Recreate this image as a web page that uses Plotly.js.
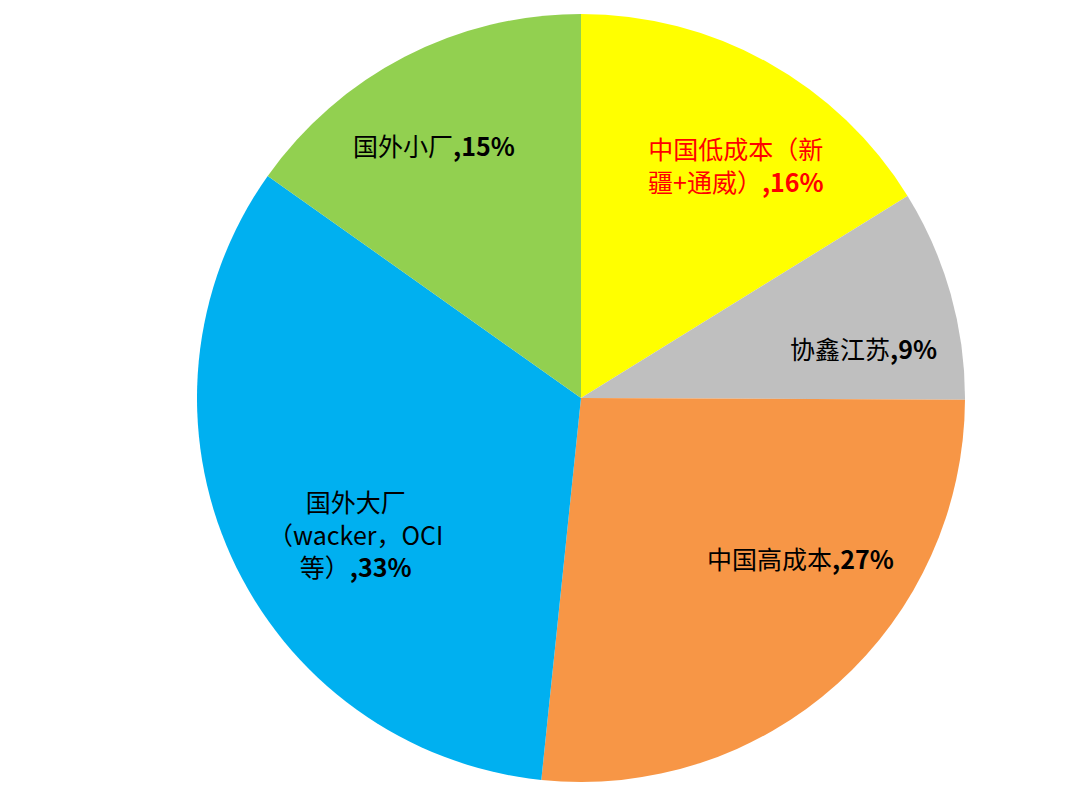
<!DOCTYPE html>
<html><head><meta charset="utf-8">
<script src="https://cdn.plot.ly/plotly-3.0.1.min.js"></script>
<style>html,body{margin:0;padding:0;background:#fff;}</style>
</head><body>
<div id="chart" style="width:1080px;height:785px;"></div>
<script>
// data
const labels = ["中国低成本（新<br>疆+通威）", "协鑫江苏", "中国高成本", "国外大厂<br>（wacker，OCI<br>等）", "国外小厂"];
const values = [16.2, 8.9, 26.6, 33.2, 15.2];

// styles / layout helpers
const colors = ["#FFFF00", "#BFBFBF", "#F79646", "#00B0F0", "#92D050"];
const textColors = ["#FF0000", "#000000", "#000000", "#000000", "#000000"];
const labelPosPx = [[736, 165], [863, 348], [800, 558], [355, 533], [434, 145]];

const total = values.reduce((a, b) => a + b, 0);
const W = 1080, H = 785;

const trace = {
  type: "pie",
  labels: labels,
  values: values,
  sort: false,
  direction: "clockwise",
  rotation: 0,
  marker: {colors: colors, line: {width: 0}},
  textinfo: "none",
  hoverinfo: "label+percent",
  domain: {x: [197 / W, 965 / W], y: [3 / H, 771 / H]},
  showlegend: false
};

const annotations = labels.map((lab, i) => ({
  xref: "paper", yref: "paper",
  x: labelPosPx[i][0] / W, y: 1 - labelPosPx[i][1] / H,
  xanchor: "center", yanchor: "middle",
  showarrow: false, align: "center",
  text: lab + "<b>," + Math.round(values[i] / total * 100) + "%</b>",
  font: {family: "Noto Sans CJK SC", size: 25, color: textColors[i]}
}));

Plotly.newPlot("chart", [trace], {
  width: W, height: H,
  margin: {l: 0, r: 0, t: 0, b: 0},
  paper_bgcolor: "#ffffff",
  showlegend: false,
  annotations: annotations
}, {displayModeBar: false});
</script>
</body></html>
